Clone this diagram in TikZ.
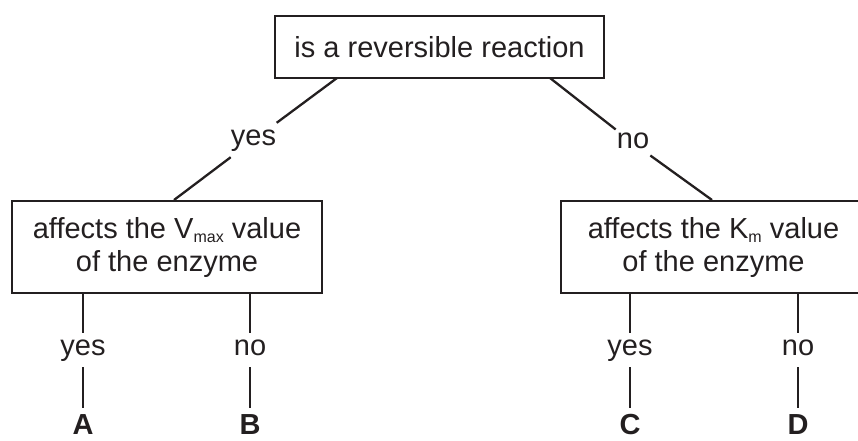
\documentclass[tikz,border=0pt]{standalone}
\usepackage{fontspec}
\setmainfont{Liberation Sans}
\definecolor{ink}{HTML}{231F20}
\newcommand{\subtxt}[1]{\raisebox{-4pt}{\fontsize{16}{16}\selectfont #1}}
\begin{document}
\begin{tikzpicture}[x=1pt,y=-1pt,
  every node/.style={font=\fontsize{29}{33}\selectfont, text=ink},
  qbox/.style={draw=ink, line width=2.4pt, align=center, inner sep=0pt},
  conn/.style={draw=ink, line width=2.3pt},
  lab/.style={inner xsep=1pt, inner ysep=2pt, text height=20pt, text depth=10pt},
  leaf/.style={font=\fontsize{29}{33}\selectfont\bfseries, inner sep=0pt}]
\useasboundingbox (0,0) rectangle (858,440);
\node[qbox, minimum width=329pt, minimum height=62pt] (top) at (439.5,47) {is a reversible reaction};
\node[qbox, minimum width=310pt, minimum height=92pt] (L) at (167,247) {affects the V\subtxt{max} value\\of the enzyme};
\node[qbox, minimum width=305pt, minimum height=92pt] (R) at (713.5,247) {affects the K\subtxt{m} value\\of the enzyme};
\coordinate (t1) at (337,78);
\coordinate (t2) at (550,78);
\coordinate (l0) at (174,200);
\coordinate (r0) at (712,200);
\coordinate (la) at (83,292);
\coordinate (lb) at (250,292);
\coordinate (rc) at (630,292);
\coordinate (rd) at (798,292);
\node[lab] (y1) at (253.5,140) {yes};
\node[lab] (n1) at (633,143) {no};
\node[lab] (y2) at (83,350) {yes};
\node[lab] (n2) at (250,350) {no};
\node[lab] (y3) at (630,350) {yes};
\node[lab] (n3) at (798,350) {no};
\node[leaf] (A) at (83,425) {A};
\node[leaf] (B) at (250,425) {B};
\node[leaf] (C) at (630,425) {C};
\node[leaf] (D) at (798,425) {D};
\coordinate (ae) at (83,408);
\coordinate (be) at (250,408);
\coordinate (ce) at (630,408);
\coordinate (de) at (798,408);
\draw[conn] (t1) -- (y1) -- (l0);
\draw[conn] (t2) -- (n1) -- (r0);
\draw[conn] (la) -- (y2) -- (ae);
\draw[conn] (lb) -- (n2) -- (be);
\draw[conn] (rc) -- (y3) -- (ce);
\draw[conn] (rd) -- (n3) -- (de);
\end{tikzpicture}
\end{document}
